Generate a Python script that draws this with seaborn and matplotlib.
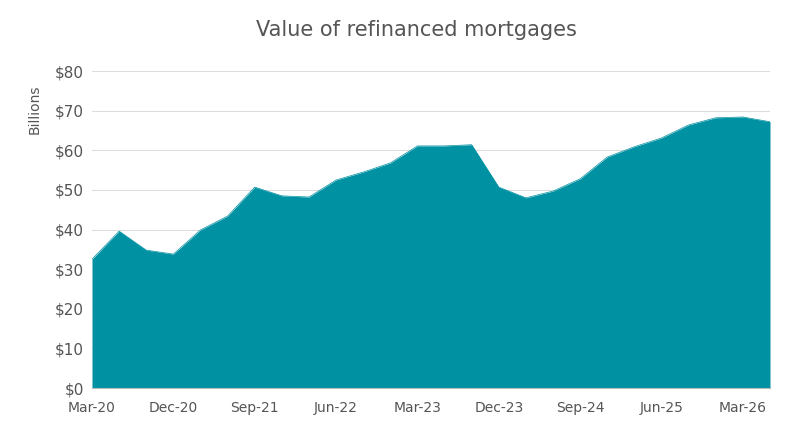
import matplotlib
matplotlib.use("Agg")
import matplotlib.pyplot as plt
import seaborn as sns
import pandas as pd

quarters = ["Mar-20","Jun-20","Sep-20","Dec-20","Mar-21","Jun-21","Sep-21","Dec-21","Mar-22","Jun-22",
            "Sep-22","Dec-22","Mar-23","Jun-23","Sep-23","Dec-23","Mar-24","Jun-24","Sep-24","Dec-24",
            "Mar-25","Jun-25","Sep-25","Dec-25","Mar-26","Jun-26"]
values = [32.5,39.6,34.8,33.8,39.9,43.4,50.7,48.5,48.2,52.5,54.5,56.8,61.1,61.1,61.4,50.7,48.0,49.7,52.8,58.3,
          60.9,63.1,66.4,68.2,68.4,67.2]
yticks = [0,10,20,30,40,50,60,70,80]

df = pd.DataFrame({"i": range(len(quarters)), "v": values})
sns.set_style("white")
fig = plt.figure(figsize=(8, 4.37), dpi=100)
ax = fig.add_axes([0.115, 0.112, 0.8475, 0.7255])
color = "#0091A3"
sns.lineplot(data=df, x="i", y="v", ax=ax, color=color, linewidth=0.5)
ax.fill_between(df["i"], df["v"], color=color, linewidth=0)
ax.set_xlim(0, len(quarters) - 1)
ax.set_ylim(0, 80)
ax.set_yticks(yticks)
ax.set_yticklabels([f"${t}" for t in yticks], fontsize=11, color="#555555")
tick_idx = list(range(0, len(quarters), 3))
ax.set_xticks(tick_idx)
ax.set_xticklabels([quarters[i] for i in tick_idx], fontsize=10, color="#555555")
ax.grid(axis="y", color="#dddddd", linewidth=0.8)
ax.set_axisbelow(True)
for s in ["top", "right", "left"]:
    ax.spines[s].set_visible(False)
ax.spines["bottom"].set_color("#bbbbbb")
ax.tick_params(length=0)
ax.tick_params(axis="x", pad=9)
ax.tick_params(axis="y", pad=6)
ax.set_xlabel("")
ax.set_ylabel("Billions", fontsize=10, color="#555555")
ax.yaxis.set_label_coords(-0.075, 0.88)
fig.suptitle("Value of refinanced mortgages", fontsize=15, color="#555555", x=0.52, y=0.955)
fig.savefig("out.png", dpi=100)
